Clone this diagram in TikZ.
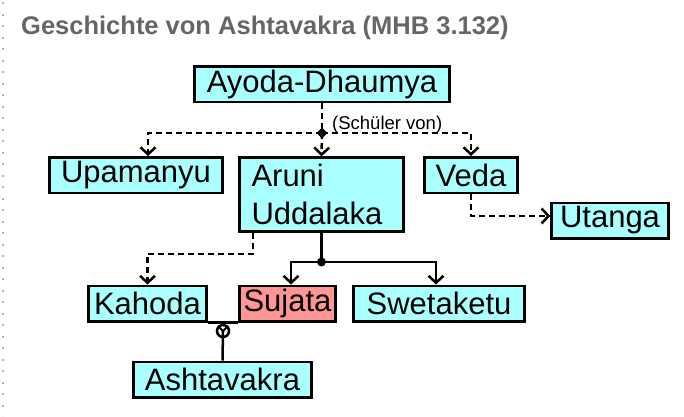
\documentclass[tikz,border=0pt]{standalone}
\usepackage{fontspec}
\newfontfamily\arial{Liberation Sans}
\usepackage{tikz}
\usetikzlibrary{arrows.meta}
\usetikzlibrary{shapes.geometric}
\definecolor{boxcyan}{RGB}{170,255,255}
\definecolor{boxred}{RGB}{255,150,150}
\definecolor{titlegray}{RGB}{102,102,102}
\tikzset{
  person/.style={draw=black, line width=2.5pt, fill=boxcyan, minimum height=35.5pt, inner sep=0pt,
    font=\arial\fontsize{31}{38}\selectfont},
  link/.style={line width=2.5pt, -{Straight Barb[length=7pt,width=15pt]}},
  teach/.style={link, dash pattern=on 6pt off 4pt},
}

\begin{document}
\begin{tikzpicture}[x=1pt, y=-1pt]
\useasboundingbox (0,0) rectangle (684,416);
%%% dotted border on the left and the title
\draw[gray!60, line width=2pt, dash pattern=on 2pt off 9.5pt] (3,2) -- (3,416);
\node[anchor=base west, inner sep=0pt, text=titlegray, font=\arial\bfseries\fontsize{25.5}{26}\selectfont] (title) at (21,34) {Geschichte von Ashtavakra (MHB 3.132)};
%%%%%% The persons
\node[person, minimum width=255pt] (ayoda) at (322,84) {Ayoda-Dhaumya};
\node[person, minimum width=173pt] (upamanyu) at (136,175) {Upamanyu};
\node[person, minimum width=164pt, minimum height=74pt, text width=140pt, align=left] (aruni) at (321.5,194.5) {Aruni\\Uddalaka};
\node[person, minimum width=93pt] (veda) at (471,175) {Veda};
\node[person, minimum width=117pt] (utanga) at (610,220.5) {Utanga};
\node[person, minimum width=118pt] (kahoda) at (147.5,303.5) {Kahoda};
\node[person, minimum width=96pt, fill=boxred] (sujata) at (287.5,303.5) {Sujata};
\node[person, minimum width=171pt] (swetaketu) at (439,303.5) {Swetaketu};
\node[person, minimum width=178pt] (ashtavakra) at (222.5,379.5) {Ashtavakra};
%%%%%% Teacher and his pupils
\coordinate (school) at (322,133);
\draw[teach, -] (ayoda) -- (school);
\draw[teach] (school) -| ([xshift=12pt]upamanyu.north);
\draw[teach] (school) -- (aruni.north);
\draw[teach] (school) -| (veda.north);
\node[diamond, fill=black, inner sep=0pt, minimum size=11pt] (schooldot) at (school) {};
\node[anchor=base west, inner sep=0pt, font=\arial\fontsize{18.5}{18.5}\selectfont] (pupillabel) at (332,129) {(Sch\"uler von)};
\draw[teach] (veda.south) |- ([yshift=4.5pt]utanga.west);
\draw[teach] ([xshift=-68.5pt]aruni.south) -- ++(0,21) -| (kahoda.north);
%%%%%% Children of Aruni
\coordinate (family) at (321.5,262);
\draw[line width=2.5pt] (aruni.south) -- (family);
\draw[link] (family) -| ([xshift=3.5pt]sujata.north);
\draw[link] (family) -| ([xshift=-3pt]swetaketu.north);
\node[circle, fill=black, inner sep=0pt, minimum size=9pt] (familydot) at (family) {};
%%%% Kahoda and Sujata, their son
\draw[line width=2.5pt] (kahoda.south east) -- (sujata.south west);
\node[circle, draw, line width=2.5pt, minimum size=12pt, inner sep=0pt] (marriage) at (223,331) {};
\draw[line width=2pt] (marriage.north west) -- (marriage.center) -- (marriage.north east);
\draw[line width=2.5pt] (marriage.center) -- (ashtavakra.north);
\end{tikzpicture}
\end{document}
